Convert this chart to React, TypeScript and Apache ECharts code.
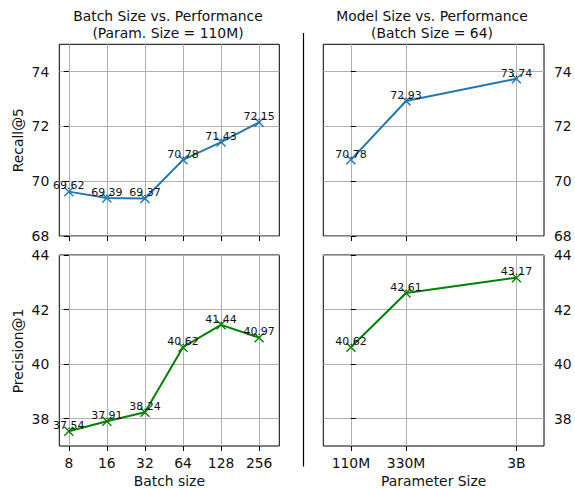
import React, { useEffect, useRef } from 'react';
import * as echarts from 'echarts';

const batchSizes = ['8', '16', '32', '64', '128', '256'];
const batchX = [0, 1, 2, 3, 4, 5];
const batchRecall = [69.62, 69.39, 69.37, 70.78, 71.43, 72.15];
const batchPrecision = [37.54, 37.91, 38.24, 40.62, 41.44, 40.97];
const modelSizes = ['110M', '330M', '3B'];
const modelX = [0, 1, 3];
const modelRecall = [70.78, 72.93, 73.74];
const modelPrecision = [40.62, 42.61, 43.17];
const recallTicks = [68, 70, 72, 74];
const precisionTicks = [38, 40, 42, 44];

const FONT = 'DejaVu Sans';
const BLUE = '#1f77b4';
const GREEN = '#008000';
const XSYM = 'path://M0,0L10,10M0,10L10,0';

export default function App() {
  const ref = useRef<HTMLDivElement>(null);
  useEffect(() => {
    if (!ref.current) return;
    const chart = echarts.init(ref.current, undefined, { renderer: 'svg' });

    const gridStyle = { show: true, borderColor: '#000', borderWidth: 1, backgroundColor: 'transparent' };
    const grids = [
      { left: 59.3, top: 44.3, width: 220, height: 191.7, ...gridStyle },
      { left: 323.3, top: 44.3, width: 220.7, height: 191.7, ...gridStyle },
      { left: 59.3, top: 255, width: 220, height: 191, ...gridStyle },
      { left: 323.3, top: 255, width: 220.7, height: 191, ...gridStyle },
    ];

    const tick = { show: true, inside: false, length: 5, lineStyle: { color: '#000', width: 1 } };
    const split = { show: true, lineStyle: { color: '#b0b0b0', width: 1 } };
    const labelBase = { color: '#111', fontFamily: FONT, fontSize: 13.9, margin: 10 };

    const mkX = (gi: number, xs: number[], names: string[], min: number, max: number, showLabel: boolean) => ({
      type: 'value',
      gridIndex: gi,
      min,
      max,
      axisLine: { show: false },
      axisTick: { ...tick, customValues: xs },
      axisLabel: {
        ...labelBase,
        show: showLabel,
        customValues: xs,
        formatter: (v: number) => names[xs.indexOf(v)] ?? '',
      },
      splitLine: split,
    });
    const mkY = (gi: number, ticks: number[], min: number, max: number, pos: string) => ({
      type: 'value',
      gridIndex: gi,
      min,
      max,
      position: pos,
      axisLine: { show: false },
      axisTick: { ...tick, customValues: ticks },
      axisLabel: { ...labelBase, customValues: ticks, formatter: (v: number) => String(v) },
      splitLine: split,
    });

    const mkSeries = (gi: number, xs: number[], ys: number[], color: string) => ({
      type: 'line',
      xAxisIndex: gi,
      yAxisIndex: gi,
      data: xs.map((x, i) => [x, ys[i]]),
      symbol: XSYM,
      symbolSize: 9,
      itemStyle: { color, borderColor: color, borderWidth: 1.4 },
      lineStyle: { color, width: 2 },
      label: {
        show: true,
        position: 'top',
        distance: -5,
        fontFamily: FONT,
        fontSize: 11,
        color: '#111',
        formatter: (p: any) => p.value[1].toFixed(2),
      },
      emphasis: { disabled: true },
      clip: false,
    });

    const txt = (x: number, y: number, text: string, rot = 0) => ({
      type: 'text',
      x,
      y,
      rotation: rot,
      style: { text, fontFamily: FONT, fontSize: 13.9, fill: '#111', align: 'center', verticalAlign: 'middle' },
    });

    chart.setOption({
      animation: false,
      grid: grids,
      xAxis: [
        mkX(0, batchX, batchSizes, -0.25, 5.53, false),
        mkX(1, modelX, modelSizes, -0.5, 3.5, false),
        mkX(2, batchX, batchSizes, -0.25, 5.53, true),
        mkX(3, modelX, modelSizes, -0.5, 3.5, true),
      ],
      yAxis: [
        mkY(0, recallTicks, 68, 75, 'left'),
        mkY(1, recallTicks, 68, 75, 'right'),
        mkY(2, precisionTicks, 37, 44, 'left'),
        mkY(3, precisionTicks, 37, 44, 'right'),
      ],
      series: [
        mkSeries(0, batchX, batchRecall, BLUE),
        mkSeries(1, modelX, modelRecall, BLUE),
        mkSeries(2, batchX, batchPrecision, GREEN),
        mkSeries(3, modelX, modelPrecision, GREEN),
      ],
      graphic: [
        txt(168, 16, 'Batch Size vs. Performance'),
        txt(168, 32.5, '(Param. Size = 110M)'),
        txt(432, 16, 'Model Size vs. Performance'),
        txt(432, 32.5, '(Batch Size = 64)'),
        txt(18.3, 140.2, 'Recall@5', Math.PI / 2),
        txt(18.3, 351, 'Precision@1', Math.PI / 2),
        txt(169.3, 480.8, 'Batch size'),
        txt(433.7, 480.8, 'Parameter Size'),
        {
          type: 'line',
          shape: { x1: 303.5, y1: 33, x2: 303.5, y2: 466.5 },
          style: { stroke: '#000', lineWidth: 1.2 },
        },
      ],
    });
    return () => chart.dispose();
  }, []);
  return <div ref={ref} style={{ position: 'absolute', left: 0, top: 0, width: 575, height: 488 }} />;
}
